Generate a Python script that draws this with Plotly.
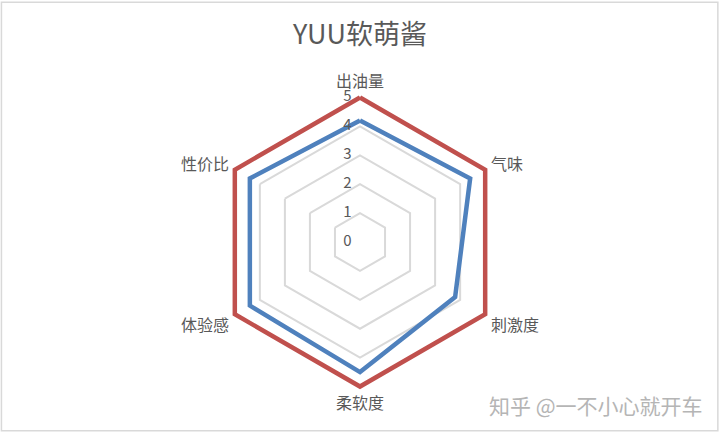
import plotly.graph_objects as go

categories = ["出油量", "气味", "刺激度", "柔软度", "体验感", "性价比"]
series_a = [5, 5, 5, 5, 5, 5]
series_b = [4.2, 4.4, 3.8, 4.5, 4.4, 4.4]
radial_ticks = [0, 1, 2, 3, 4, 5]
radial_labels = ["0", "1", "2", "3", "4", "5"]

cats_closed = categories + categories[:1]
fig = go.Figure()
fig.add_trace(go.Scatterpolar(r=series_a + series_a[:1], theta=cats_closed, mode="lines",
                              line=dict(color="#C0504D", width=4.5), name="A", cliponaxis=False))
fig.add_trace(go.Scatterpolar(r=series_b + series_b[:1], theta=cats_closed, mode="lines",
                              line=dict(color="#4F81BD", width=4.5), name="B", cliponaxis=False))
# radial tick labels, placed left of the vertical axis like the original
label_r = [max(v, 1e-3) for v in radial_ticks]
fig.add_trace(go.Scatterpolar(r=label_r, theta=[categories[0]] * len(radial_ticks), mode="text",
                              text=[t + "\u2007" for t in radial_labels], textposition="middle left",
                              textfont=dict(size=15, color="#595959"), cliponaxis=False,
                              hoverinfo="skip"))

font_cjk = "Noto Sans CJK SC, Noto Sans, sans-serif"
fig.update_layout(
    width=720, height=433,
    margin=dict(l=0, r=0, t=0, b=0),
    paper_bgcolor="white", plot_bgcolor="white",
    showlegend=False,
    font=dict(family=font_cjk, color="#595959"),
    title=dict(text="YUU软萌酱", x=0.5, xanchor="center", y=1 - 35 / 433, yanchor="middle",
               font=dict(size=27, color="#595959", family=font_cjk)),
    polar=dict(
        domain=dict(x=[0.2904, 0.7096], y=[0.0926, 0.7896]),
        gridshape="linear",
        bgcolor="white",
        radialaxis=dict(range=[0, 5.22], tickvals=radial_ticks, showticklabels=False, angle=90,
                        showline=False, ticks="", showgrid=True, gridcolor="#D9D9D9", gridwidth=1.5,
                        layer="below traces"),
        angularaxis=dict(rotation=90, direction="clockwise", showgrid=False,
                         showline=False, ticks="", layer="below traces",
                         tickfont=dict(size=16, color="#595959")),
    ),
    shapes=[dict(type="rect", xref="paper", yref="paper", x0=0.002, y0=0.005, x1=0.997, y1=0.995,
                 line=dict(color="#D9D9D9", width=1.5), layer="below")],
    annotations=[dict(text="知乎 @一不小心就开车", x=705 / 720, y=1 - 405 / 433, xref="paper", yref="paper",
                      xanchor="right", yanchor="middle", showarrow=False,
                      font=dict(size=21, color="#B5B5B5", family=font_cjk))],
)

fig.write_html("out.html", config={"displayModeBar": False},
               post_script="document.body.style.margin='0px';document.body.style.padding='0px';")
